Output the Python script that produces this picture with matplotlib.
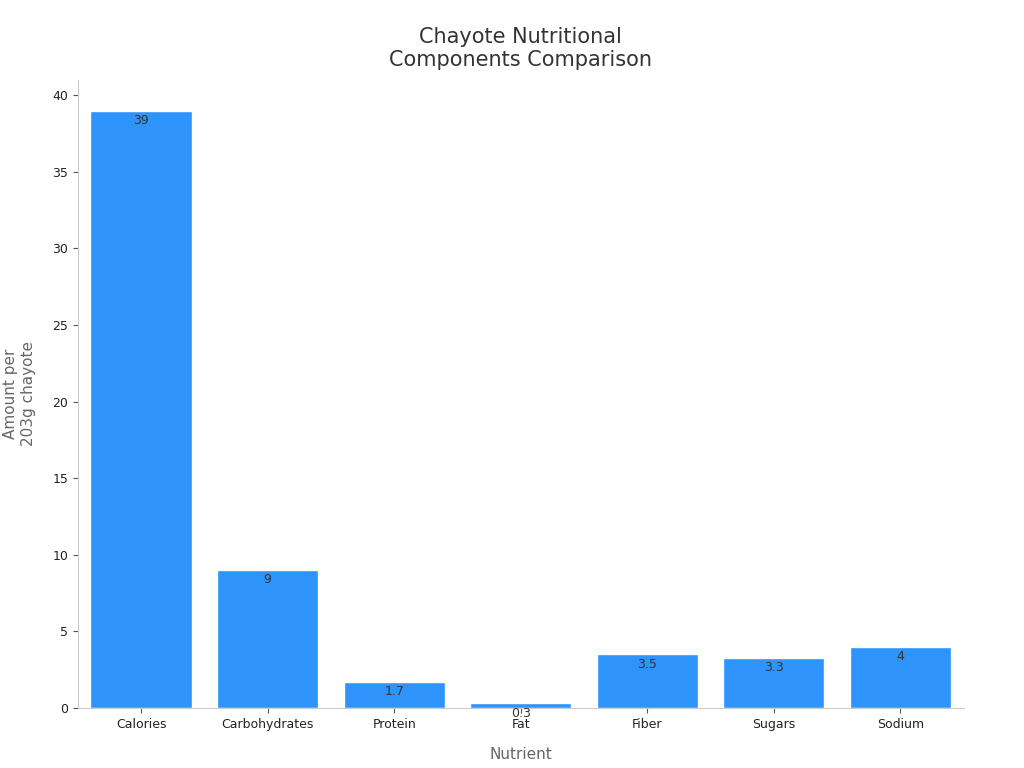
import matplotlib
matplotlib.use("Agg")
import matplotlib.pyplot as plt

nutrients = ["Calories", "Carbohydrates", "Protein", "Fat", "Fiber", "Sugars", "Sodium"]
values = [39, 9, 1.7, 0.3, 3.5, 3.3, 4]
labels = ["39", "9", "1.7", "0.3", "3.5", "3.3", "4"]

fig = plt.figure(figsize=(10.24, 7.68), dpi=100)
ax = fig.add_axes([0.076, 0.078, 0.865, 0.818])
bars = ax.bar(range(len(nutrients)), values, width=0.8, color="#2E93FA", edgecolor="white", linewidth=1)
for i, (v, l) in enumerate(zip(values, labels)):
    ax.text(i, v - 0.2, l, ha="center", va="top", fontsize=9, color="#333333")
ax.set_xticks(range(len(nutrients)))
ax.set_xticklabels(nutrients, fontsize=9, color="#222222")
ax.set_xlim(-0.5, 6.5)
ax.set_ylim(0, 41)
ax.set_yticks([0, 5, 10, 15, 20, 25, 30, 35, 40])
ax.tick_params(axis="y", labelsize=9, colors="#222222")
ax.tick_params(colors="#555555")
for lab in ax.get_yticklabels() + ax.get_xticklabels():
    lab.set_color("#222222")
for s in ["top", "right"]:
    ax.spines[s].set_visible(False)
for s in ["left", "bottom"]:
    ax.spines[s].set_color("#cccccc")
ax.set_xlabel("Nutrient", fontsize=11, color="#666666", labelpad=12)
ax.set_ylabel("Amount per\n203g chayote", fontsize=11, color="#666666", labelpad=12)
ax.set_title("Chayote Nutritional\nComponents Comparison", fontsize=15, color="#333333", pad=10)
fig.savefig("out.png", dpi=100)
